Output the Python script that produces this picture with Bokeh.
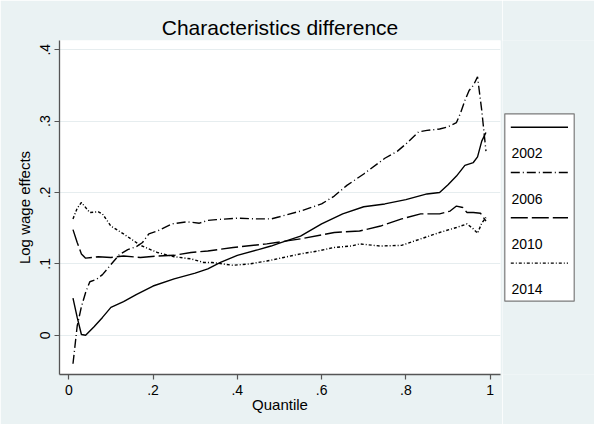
from bokeh.plotting import figure
from bokeh.layouts import row
from bokeh.models import Range1d, FixedTicker
from bokeh.embed import file_html
from bokeh.resources import INLINE
from bokeh.core.properties import value

# ---------------- data ----------------
q2002 = [0.01, 0.02, 0.03, 0.04, 0.06, 0.08, 0.10, 0.13, 0.16, 0.20, 0.25, 0.30, 0.33,
         0.36, 0.40, 0.45, 0.48, 0.50, 0.55, 0.60, 0.65, 0.70, 0.75, 0.80, 0.85, 0.88,
         0.90, 0.92, 0.94, 0.96, 0.97, 0.98, 0.99]
v2002 = [0.052, 0.025, 0.001, 0.000, 0.012, 0.025, 0.039, 0.047, 0.057, 0.069, 0.079, 0.087, 0.093,
         0.102, 0.112, 0.120, 0.125, 0.129, 0.139, 0.156, 0.170, 0.180, 0.184, 0.190, 0.198, 0.200,
         0.211, 0.223, 0.238, 0.242, 0.250, 0.272, 0.284]

q2006 = [0.01, 0.02, 0.03, 0.04, 0.05, 0.065, 0.08, 0.10, 0.12, 0.14, 0.16, 0.175, 0.19, 0.21,
         0.245, 0.28, 0.31, 0.33, 0.35, 0.40, 0.45, 0.48, 0.50, 0.55, 0.60, 0.63, 0.66, 0.70,
         0.75, 0.78, 0.80, 0.83, 0.85, 0.88, 0.90, 0.92, 0.93, 0.94, 0.95, 0.96, 0.97, 0.98, 0.99]
v2006 = [-0.040, 0.013, 0.040, 0.060, 0.075, 0.078, 0.085, 0.099, 0.113, 0.120, 0.124, 0.130, 0.142, 0.146,
         0.156, 0.159, 0.157, 0.161, 0.162, 0.164, 0.163, 0.163, 0.166, 0.174, 0.184, 0.195, 0.210, 0.226,
         0.248, 0.258, 0.268, 0.285, 0.287, 0.289, 0.292, 0.298, 0.312, 0.329, 0.343, 0.350, 0.362, 0.315, 0.258]

q2010 = [0.01, 0.02, 0.03, 0.04, 0.07, 0.10, 0.13, 0.17, 0.21, 0.25, 0.29, 0.33, 0.39, 0.47,
         0.55, 0.63, 0.69, 0.74, 0.79, 0.835, 0.88, 0.905, 0.92, 0.935, 0.945, 0.96, 0.977, 0.99]
v2010 = [0.148, 0.130, 0.114, 0.108, 0.110, 0.109, 0.111, 0.109, 0.111, 0.112, 0.116, 0.118, 0.123, 0.128,
         0.135, 0.144, 0.146, 0.153, 0.163, 0.170, 0.170, 0.174, 0.181, 0.179, 0.172, 0.172, 0.171, 0.160]

q2014 = [0.01, 0.02, 0.03, 0.05, 0.07, 0.08, 0.10, 0.13, 0.17, 0.21, 0.25, 0.29, 0.32, 0.34,
         0.39, 0.43, 0.47, 0.51, 0.55, 0.59, 0.63, 0.67, 0.69, 0.74, 0.79, 0.835, 0.88, 0.92,
         0.945, 0.96, 0.97, 0.98, 0.99]
v2014 = [0.163, 0.178, 0.186, 0.172, 0.173, 0.170, 0.153, 0.142, 0.126, 0.116, 0.110, 0.107, 0.102, 0.102,
         0.098, 0.100, 0.104, 0.109, 0.114, 0.118, 0.123, 0.125, 0.128, 0.125, 0.126, 0.135, 0.144, 0.151,
         0.156, 0.149, 0.143, 0.157, 0.165]

years = ["2002", "2006", "2010", "2014"]
x_ticks = [0, 0.2, 0.4, 0.6, 0.8, 1]
x_tick_labels = ["0", ".2", ".4", ".6", ".8", "1"]
y_ticks = [0, 0.1, 0.2, 0.3, 0.4]
y_tick_labels = ["0", ".1", ".2", ".3", ".4"]

# ---------------- style ----------------
BG = "#EAF2F3"
FONT = "Liberation Sans"
AXIS_COLOR = "#555555"
dashes = ["solid", "9 3 1 3", "17 4", "3 2 1 2"]

series = [(q2002, v2002), (q2006, v2006), (q2010, v2010), (q2014, v2014)]

FRAME_TOP, FRAME_BOTTOM = 40, 374   # pixel rows of the plotting frame

p = figure(width=502, height=424, output_backend="svg", toolbar_location=None,
           x_range=Range1d(-0.022, 1.0245), y_range=Range1d(-0.055, 0.413),
           min_border_left=59, min_border_right=2, min_border_top=FRAME_TOP,
           min_border_bottom=424 - FRAME_BOTTOM,
           title="Characteristics difference")
p.background_fill_color = "white"
p.border_fill_color = BG
p.outline_line_color = None

p.title.align = "center"
p.title.text_font = FONT
p.title.text_font_size = "21px"
p.title.text_font_style = "normal"
p.title.text_color = "black"
p.title.standoff = 4

p.xaxis.ticker = FixedTicker(ticks=x_ticks)
p.xaxis.major_label_overrides = dict(zip(x_ticks, x_tick_labels))
p.yaxis.ticker = FixedTicker(ticks=y_ticks)
p.yaxis.major_label_overrides = dict(zip(y_ticks, y_tick_labels))
p.yaxis.major_label_orientation = "vertical"

p.xaxis.axis_label = "Quantile"
p.yaxis.axis_label = "Log wage effects"
for ax in (p.xaxis, p.yaxis):
    ax.axis_label_text_font = FONT
    ax.axis_label_text_font_size = "15px"
    ax.axis_label_text_font_style = "normal"
    ax.axis_label_text_color = "black"
    ax.major_label_text_font = FONT
    ax.major_label_text_font_size = "14px"
    ax.major_label_text_color = "black"
    ax.axis_line_color = AXIS_COLOR
    ax.axis_line_width = 1.3
    ax.major_tick_line_color = AXIS_COLOR
    ax.major_tick_line_width = 1.2
    ax.major_tick_out = 5
    ax.major_tick_in = 0
    ax.minor_tick_line_color = None
p.xaxis.major_label_standoff = 5
p.xaxis.axis_label_standoff = -2
p.yaxis.major_label_standoff = 4
p.yaxis.axis_label_standoff = 5

p.xgrid.grid_line_color = None
p.ygrid.grid_line_color = "#E6EDEF"
p.ygrid.grid_line_width = 1.2

for (qq, vv), d in zip(series, dashes):
    p.line(qq, vv, line_color="black", line_width=1.4, line_dash=d)

# ---------------- legend panel ----------------
# the row aligns this panel's frame with the main frame, so its y range spans
# the same pixel rows as the main frame (page pixel coordinates).
lg = figure(width=92, height=424, output_backend="svg", toolbar_location=None,
            x_range=Range1d(502, 594), y_range=Range1d(FRAME_BOTTOM, FRAME_TOP), title=None,
            min_border=0, min_border_left=0, min_border_right=0,
            min_border_top=FRAME_TOP, min_border_bottom=424 - FRAME_BOTTOM,
            x_axis_location=None, y_axis_location=None)
lg.grid.visible = False
lg.background_fill_color = BG
lg.border_fill_color = BG
lg.outline_line_color = None

lg.quad(left=[504.3], right=[573.7], top=[113.3], bottom=[300.7],
        fill_color="white", line_color="#7a7a7a", line_width=1.2)
step = 45.3
for i, (yr, d) in enumerate(zip(years, dashes)):
    yl = 126.7 + i * step
    lg.line([510.3, 567.5], [yl, yl], line_color="black", line_width=1.4, line_dash=d)
lg.text(x=[511.0] * 4, y=[152.7 + i * step for i in range(4)], text=years,
        text_font=value(FONT), text_font_size="14px", text_baseline="middle",
        text_align="left", text_color="black")

layout = row(p, lg, spacing=0)
open("out.html", "w").write(file_html(layout, INLINE))
